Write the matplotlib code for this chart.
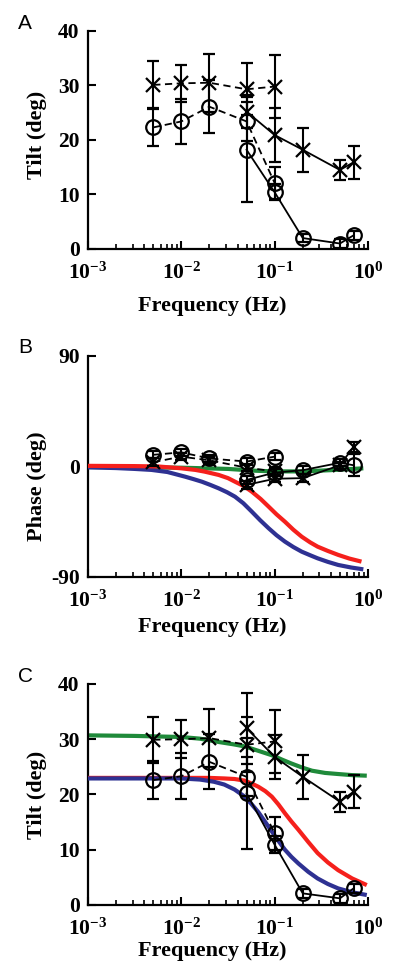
from __future__ import annotations

import math

import matplotlib

matplotlib.use("Agg")

import matplotlib.pyplot as plt
import numpy as np
from matplotlib.ticker import FixedLocator, FuncFormatter, LogLocator, NullFormatter

# frequencies (Hz) of the measured points
FREQ_LOW = [0.005, 0.01, 0.02, 0.05, 0.1]
FREQ_HIGH = [0.05, 0.1, 0.2, 0.5, 0.7]

# panel A: tilt (deg)
A_CROSS_DASH = [30.1, 30.4, 30.5, 29.3, 29.8]
A_CROSS_DASH_ERR = [4.3, 3.4, 5.3, 4.8, 5.8]
A_CIRC_DASH = [22.3, 23.4, 26.1, 23.4, 12.1]
A_CIRC_DASH_ERR = [3.4, 4.1, 4.9, 3.5, 3.0]
A_CROSS_SOLID = [25.2, 20.9, 18.2, 14.5, 15.9]
A_CROSS_SOLID_ERR = [3.0, 5.0, 4.0, 1.9, 3.0]
A_CIRC_SOLID = [18.2, 10.4, 2.0, 1.0, 2.5]
A_CIRC_SOLID_ERR = [9.6, 1.5, 0.8, 0.8, 0.8]

# panel B: phase (deg)
B_CIRC_DASH = [9.5, 11.5, 6.5, 4.0, 8.0]
B_CIRC_DASH_ERR = [3.0, 3.0, 3.0, 3.0, 3.0]
B_CROSS_DASH = [3.5, 8.0, 5.0, -1.0, -4.0]
B_CROSS_DASH_ERR = [3.0, 3.0, 3.0, 3.0, 3.0]
B_CIRC_SOLID = [-11.0, -5.0, -3.0, 3.0, 1.0]
B_CIRC_SOLID_ERR = [3.0, 3.0, 3.0, 3.0, 9.0]
B_CROSS_SOLID = [-15.0, -10.0, -9.5, 1.0, 16.0]
B_CROSS_SOLID_ERR = [3.0, 3.0, 3.0, 3.0, 4.0]

# model curves, log10(frequency)
B_RED_LOGF = [-3.0, -2.5, -2.25, -2.0, -1.85, -1.75, -1.6, -1.5, -1.425, -1.33, -1.245, -1.15,
              -1.065, -0.98, -0.89, -0.8, -0.71, -0.62, -0.54, -0.43, -0.32, -0.2, -0.07]
B_RED = [0.5, 0.3, 0.0, -1.5, -2.8, -4.2, -6.9, -9.5, -12.4, -16.0, -20.5, -26.5,
         -32.7, -39.0, -45.0, -51.5, -57.2, -61.8, -65.3, -68.8, -72.0, -75.0, -77.5]
B_BLUE_LOGF = [-3.0, -2.7, -2.5, -2.32, -2.15, -1.96, -1.87, -1.78, -1.69, -1.6, -1.51, -1.425, -1.335,
               -1.245, -1.155, -1.065, -0.98, -0.89, -0.8, -0.71, -0.62, -0.54, -0.43, -0.32, -0.18, -0.05]
B_BLUE = [-0.7, -1.3, -2.0, -2.8, -4.5, -8.3, -10.3, -12.4, -15.0, -17.8, -21.0, -24.6, -30.0,
          -36.8, -43.8, -50.3, -56.0, -61.2, -65.6, -69.4, -72.3, -74.8, -77.7, -80.2, -82.3, -83.8]
B_GREEN_LOGF = [-3.0, -2.0, -1.5, -1.2, -1.0, -0.7, -0.4, -0.05]
B_GREEN = [-0.5, -1.0, -2.0, -3.5, -4.0, -4.0, -3.0, -1.5]

# panel C: tilt (deg)
C_CROSS_DASH = [29.9, 30.0, 30.2, 29.0, 29.6]
C_CROSS_DASH_ERR = [4.2, 3.4, 5.2, 5.0, 5.7]
C_CIRC_DASH = [22.6, 23.3, 25.9, 23.2, 13.0]
C_CIRC_DASH_ERR = [3.5, 4.2, 5.0, 3.5, 3.0]
C_CROSS_SOLID = [32.0, 26.8, 23.2, 18.7, 20.5]
C_CROSS_SOLID_ERR = [6.4, 4.0, 4.0, 1.8, 3.0]
C_CIRC_SOLID = [20.2, 10.9, 2.1, 1.2, 3.0]
C_CIRC_SOLID_ERR = [10.0, 1.5, 0.8, 0.8, 0.8]

C_GREEN_LOGF = [-3.0, -2.5, -2.0, -1.8, -1.6, -1.45, -1.32, -1.175, -1.03, -0.92, -0.82, -0.71,
                -0.6, -0.46, -0.32, -0.17, -0.013]
C_GREEN = [30.7, 30.6, 30.4, 30.1, 29.5, 29.1, 28.7, 27.9, 27.1, 26.3, 25.6, 24.9,
           24.3, 23.9, 23.7, 23.5, 23.4]
C_RED_LOGF = [-3.0, -2.0, -1.7, -1.54, -1.43, -1.32, -1.25, -1.175, -1.1, -1.03, -0.96, -0.89,
              -0.82, -0.745, -0.64, -0.54, -0.43, -0.32, -0.17, -0.013]
C_RED = [23.0, 23.0, 23.0, 22.9, 22.8, 22.5, 22.0, 21.4, 20.6, 19.6, 18.2, 16.6,
         15.1, 13.6, 11.4, 9.4, 7.7, 6.3, 4.8, 3.6]
C_BLUE_LOGF = [-3.0, -2.5, -2.0, -1.8, -1.65, -1.54, -1.43, -1.32, -1.25, -1.175, -1.1, -1.03,
               -0.96, -0.89, -0.82, -0.745, -0.64, -0.54, -0.43, -0.32, -0.17, -0.013]
C_BLUE = [22.9, 22.9, 22.9, 22.7, 22.3, 21.8, 20.9, 19.6, 18.3, 16.8, 15.0, 13.3,
          11.6, 10.0, 8.7, 7.5, 6.0, 4.8, 3.8, 3.0, 2.3, 1.8]

RED = "#f5201c"
BLUE = "#2e3192"
GREEN = "#1f8a3a"

plt.rcParams["font.family"] = ["Liberation Serif", "DejaVu Serif"]
plt.rcParams["font.weight"] = "bold"
plt.rcParams["mathtext.fontset"] = "custom"
plt.rcParams["mathtext.bf"] = "Liberation Serif:bold"
plt.rcParams["mathtext.rm"] = "Liberation Serif:bold"
plt.rcParams["axes.unicode_minus"] = False


def draw_curve(ax, logf, vals, color, z):
    ax.plot(10.0 ** np.asarray(logf), vals, color=color, lw=3, zorder=z, solid_capstyle="butt")


def draw_series(ax, freq, vals, errs, marker, dashed):
    line, _, _ = ax.errorbar(
        freq, vals, yerr=errs, color="black", marker=marker,
        ms=10.5 if marker == "o" else 9.5, mfc="none", mew=1.6,
        lw=1.3, elinewidth=1.5, capsize=4, capthick=1.5, zorder=5,
    )
    if dashed:
        line.set_dashes((4, 2.5))


def style_axes(ax, ylim, yticks, ylabel, ylabel_y, xlabel_y):
    ax.set_xscale("log")
    ax.set_xlim(1e-3, 1.0)
    ax.set_ylim(*ylim)
    ax.yaxis.set_major_locator(FixedLocator(yticks))
    ax.xaxis.set_major_locator(FixedLocator([1e-3, 1e-2, 1e-1, 1e0]))
    ax.xaxis.set_minor_locator(LogLocator(base=10, subs=range(2, 10)))
    ax.xaxis.set_minor_formatter(NullFormatter())
    ax.xaxis.set_major_formatter(
        FuncFormatter(lambda v, _: r"$\mathbf{10^{%d}}$" % round(math.log10(v)))
    )
    for side in ("top", "right"):
        ax.spines[side].set_visible(False)
    for side in ("left", "bottom"):
        ax.spines[side].set_linewidth(1.6)
    ax.tick_params(which="major", direction="in", length=6, width=1.5, labelsize=15.5)
    ax.tick_params(axis="y", which="major", pad=6)
    ax.tick_params(axis="x", which="major", pad=10)
    ax.tick_params(which="minor", direction="in", length=3.5, width=1.2)
    ax.set_ylabel(ylabel, fontsize=16, fontweight="bold")
    ax.yaxis.set_label_coords(-0.145, ylabel_y)
    ax.set_xlabel("Frequency (Hz)", fontsize=16, fontweight="bold")
    ax.xaxis.set_label_coords(0.443, xlabel_y)
    for lbl in ax.get_yticklabels():
        lbl.set_fontweight("bold")


def main() -> None:
    fig = plt.figure(figsize=(4.0, 9.71), dpi=100)
    ax_a = fig.add_axes([0.22, 0.7436, 0.70, 0.2245])
    ax_b = fig.add_axes([0.22, 0.4058, 0.70, 0.2276])
    ax_c = fig.add_axes([0.22, 0.068, 0.70, 0.2276])

    # A
    draw_series(ax_a, FREQ_LOW, A_CROSS_DASH, A_CROSS_DASH_ERR, "x", True)
    draw_series(ax_a, FREQ_LOW, A_CIRC_DASH, A_CIRC_DASH_ERR, "o", True)
    draw_series(ax_a, FREQ_HIGH, A_CROSS_SOLID, A_CROSS_SOLID_ERR, "x", False)
    draw_series(ax_a, FREQ_HIGH, A_CIRC_SOLID, A_CIRC_SOLID_ERR, "o", False)
    style_axes(ax_a, (0, 40), [0, 10, 20, 30, 40], "Tilt (deg)", 0.525, -0.215)

    # B
    draw_curve(ax_b, B_GREEN_LOGF, B_GREEN, GREEN, 2)
    draw_curve(ax_b, B_BLUE_LOGF, B_BLUE, BLUE, 3)
    draw_curve(ax_b, B_RED_LOGF, B_RED, RED, 4)
    draw_series(ax_b, FREQ_LOW, B_CROSS_DASH, B_CROSS_DASH_ERR, "x", True)
    draw_series(ax_b, FREQ_LOW, B_CIRC_DASH, B_CIRC_DASH_ERR, "o", True)
    draw_series(ax_b, FREQ_HIGH, B_CROSS_SOLID, B_CROSS_SOLID_ERR, "x", False)
    draw_series(ax_b, FREQ_HIGH, B_CIRC_SOLID, B_CIRC_SOLID_ERR, "o", False)
    style_axes(ax_b, (-90, 90), [-90, 0, 90], "Phase (deg)", 0.41, -0.18)

    # C
    draw_curve(ax_c, C_GREEN_LOGF, C_GREEN, GREEN, 2)
    draw_curve(ax_c, C_RED_LOGF, C_RED, RED, 3)
    draw_curve(ax_c, C_BLUE_LOGF, C_BLUE, BLUE, 4)
    draw_series(ax_c, FREQ_LOW, C_CROSS_DASH, C_CROSS_DASH_ERR, "x", True)
    draw_series(ax_c, FREQ_LOW, C_CIRC_DASH, C_CIRC_DASH_ERR, "o", True)
    draw_series(ax_c, FREQ_HIGH, C_CROSS_SOLID, C_CROSS_SOLID_ERR, "x", False)
    draw_series(ax_c, FREQ_HIGH, C_CIRC_SOLID, C_CIRC_SOLID_ERR, "o", False)
    style_axes(ax_c, (0, 40), [0, 10, 20, 30, 40], "Tilt (deg)", 0.5, -0.165)

    for letter, ytop in (("A", 14), ("B", 338), ("C", 667)):
        fig.text(0.045, 1 - ytop / 971, letter, va="top", ha="left",
                 family=["Liberation Sans", "DejaVu Sans"], fontweight="normal", fontsize=15)

    fig.savefig("out.png", dpi=100)
    plt.close(fig)


if __name__ == "__main__":
    main()
